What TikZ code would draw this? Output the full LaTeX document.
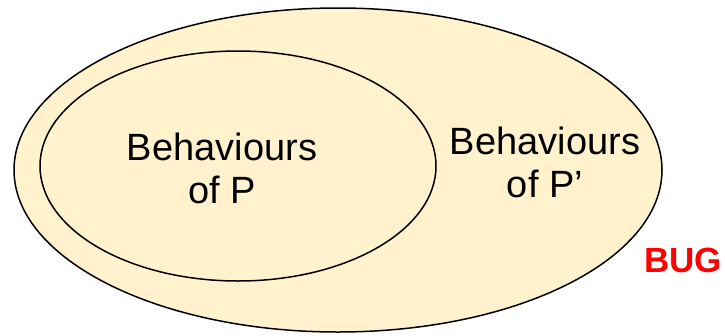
\documentclass[tikz,border=0pt]{standalone}
\usepackage{fontspec}
\setmainfont{Liberation Sans}
\definecolor{setfill}{RGB}{255,242,204}
\definecolor{bugred}{RGB}{255,0,0}
\begin{document}
\begin{tikzpicture}[x=1pt,y=-1pt,
  setline/.style={draw=black, line width=1.5pt},
  settext/.style={font=\fontsize{38}{43}\selectfont, align=center, inner sep=0pt},
  buglabel/.style={font=\fontsize{35}{40}\selectfont\bfseries, text=bugred, inner sep=0pt}]
  \useasboundingbox (0,0) rectangle (725,335);
  % outer set and the subset inside it
  \draw[setline, fill=setfill] (338,170) ellipse [x radius=324, y radius=162];
  \draw[setline, fill=setfill] (238,166) ellipse [x radius=198, y radius=115];
  \node[settext] (p) at (222,168) {Behaviours\\of P};
  \node[settext] (pp) at (545,162) {Behaviours\\of P’};
  \node[buglabel, anchor=east] (bug) at (722,260) {BUG};
\end{tikzpicture}
\end{document}
